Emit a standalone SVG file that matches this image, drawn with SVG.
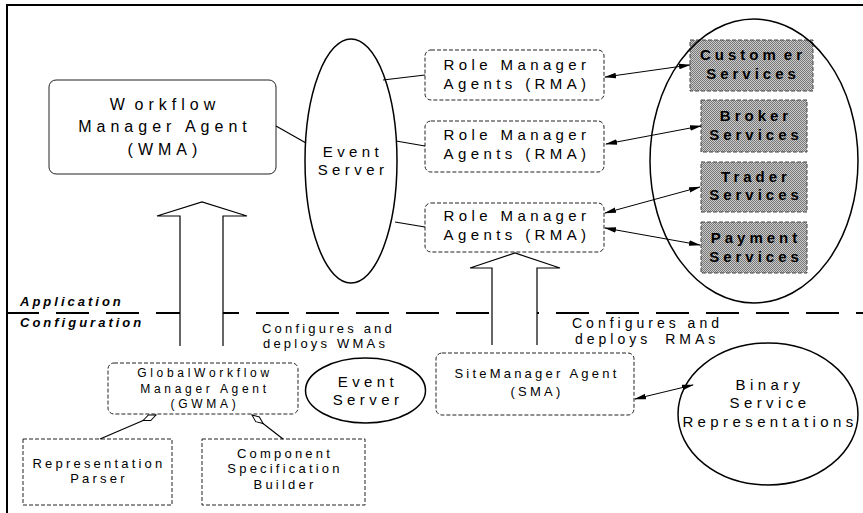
<svg xmlns="http://www.w3.org/2000/svg" width="863" height="513" viewBox="0 0 863 513">
  <defs>
    <style>
      text { font-family: "Liberation Sans", Arial, sans-serif; fill: #000; text-anchor: middle; }
      .t15 { font-size: 15px; letter-spacing: 4.4px; }
      .t16 { font-size: 16px; letter-spacing: 5px; }
      .t13 { font-size: 13px; letter-spacing: 3.2px; }
      .t12 { font-size: 12px; letter-spacing: 3.7px; }
      .svc { font-size: 15px; font-weight: bold; letter-spacing: 4px; }
      .layer { font-size: 13px; font-weight: bold; font-style: italic; letter-spacing: 3px; text-anchor: start; }
      .note { text-anchor: start; }
      .box { fill: #fff; stroke: #222; stroke-width: 1; }
      .dash { stroke-dasharray: 4 2; }
      .oval { fill: #fff; stroke: #000; stroke-width: 1.5; }
      .link { fill: none; stroke: #000; stroke-width: 1.2; }
      .both { fill: none; stroke: #000; stroke-width: 1; marker-start: url(#head); marker-end: url(#head); }
      .block { fill: none; stroke: #000; stroke-width: 1.2; }
      .service { fill: url(#dither); stroke: #444; stroke-width: 1; stroke-dasharray: 4 2; }
    </style>
    <pattern id="dither" width="2" height="2" patternUnits="userSpaceOnUse">
      <rect width="2" height="2" fill="#cacaca"/>
      <rect width="1" height="1" fill="#787878"/>
      <rect x="1" y="1" width="1" height="1" fill="#787878"/>
    </pattern>
    <marker id="head" viewBox="0 0 12 8" refX="11" refY="4" markerWidth="12" markerHeight="8" markerUnits="userSpaceOnUse" orient="auto-start-reverse">
      <path d="M0,1.2 L12,4 L0,6.8 Z" fill="#000"/>
    </marker>
    <marker id="diamond" viewBox="0 0 16 8" refX="15" refY="4" markerWidth="16" markerHeight="8" markerUnits="userSpaceOnUse" orient="auto">
      <path d="M1,4 L8,1 L15,4 L8,7 Z" fill="#fff" stroke="#000" stroke-width="1"/>
    </marker>
  </defs>

  <rect width="863" height="513" fill="#fff"/>

  <!-- frame -->
  <path d="M7,513 V5 H863" fill="none" stroke="#000" stroke-width="2"/>

  <!-- layer separator -->
  <line x1="6" y1="313" x2="863" y2="313" stroke="#000" stroke-width="2" stroke-dasharray="33 17"/>
  <text class="layer" x="20" y="306">Application</text>
  <text class="layer" x="20" y="327">Configuration</text>

  <!-- Application layer -->
  <g id="wma">
    <rect class="box" x="49" y="80" width="227" height="94" rx="7"/>
    <text class="t16" x="165" y="110">W<tspan dx="5">orkflow</tspan></text>
    <text class="t16" x="165" y="132">Manager Agent</text>
    <text class="t16" x="165" y="155">(WMA)</text>
  </g>

  <g id="event-server">
    <ellipse class="oval" cx="351" cy="161" rx="46" ry="122"/>
    <text class="t15" x="353" y="157">Event</text>
    <text class="t15" x="353" y="175">Server</text>
  </g>

  <g id="rma-1">
    <rect class="box dash" x="425" y="50" width="179" height="50" rx="6"/>
    <text class="t15" x="517" y="70">Role Manager</text>
    <text class="t15" x="517" y="89">Agents (RMA)</text>
  </g>

  <g id="rma-2">
    <rect class="box dash" x="425" y="121" width="179" height="51" rx="6"/>
    <text class="t15" x="517" y="140">Role Manager</text>
    <text class="t15" x="517" y="159">Agents (RMA)</text>
  </g>

  <g id="rma-3">
    <rect class="box dash" x="425" y="203" width="179" height="49" rx="6"/>
    <text class="t15" x="517" y="221">Role Manager</text>
    <text class="t15" x="517" y="240">Agents (RMA)</text>
  </g>

  <g id="customer-services">
    <rect class="service" x="690" y="40" width="123" height="51"/>
    <text class="svc" x="753" y="60">Custom<tspan dx="4">er</tspan></text>
    <text class="svc" x="753" y="79">Services</text>
  </g>

  <g id="broker-services">
    <rect class="service" x="701" y="100" width="106" height="52"/>
    <text class="svc" x="756" y="121">Broker</text>
    <text class="svc" x="756" y="140">Services</text>
  </g>

  <g id="trader-services">
    <rect class="service" x="701" y="162" width="106" height="50"/>
    <text class="svc" x="756" y="182">Trader</text>
    <text class="svc" x="756" y="200">Services</text>
  </g>

  <g id="payment-services">
    <rect class="service" x="701" y="222" width="106" height="51"/>
    <text class="svc" x="756" y="243">Payment</text>
    <text class="svc" x="756" y="262">Services</text>
  </g>

  <g id="service-set">
    <ellipse cx="754" cy="161" rx="104" ry="142" fill="none" stroke="#000" stroke-width="1.5"/>
  </g>

  <!-- Configuration layer -->
  <g id="gwma">
    <rect class="box dash" x="108" y="363" width="190" height="51" rx="6"/>
    <text class="t12" x="205" y="377">GlobalWorkflow</text>
    <text class="t12" x="205" y="393">Manager Agent</text>
    <text class="t12" x="205" y="408">(GWMA)</text>
  </g>

  <g id="representation-parser">
    <rect class="box dash" x="23" y="439" width="149" height="66"/>
    <text class="t13" x="99" y="468">Representation</text>
    <text class="t13" x="99" y="483">Parser</text>
  </g>

  <g id="component-specification-builder">
    <rect class="box dash" x="202" y="439" width="163" height="66"/>
    <text class="t13" x="285" y="458">Component</text>
    <text class="t13" x="285" y="473">Specification</text>
    <text class="t13" x="285" y="489">Builder</text>
  </g>

  <g id="config-event-server">
    <ellipse class="oval" cx="365.5" cy="390.5" rx="60" ry="32.5"/>
    <text class="t15" x="368" y="387">Event</text>
    <text class="t15" x="368" y="405">Server</text>
  </g>

  <g id="sma">
    <rect class="box dash" x="436" y="353" width="198" height="62" rx="6"/>
    <text class="t13" x="537" y="378">SiteManager Agent</text>
    <text class="t13" x="537" y="396">(SMA)</text>
  </g>

  <g id="binary-service-representations">
    <ellipse class="oval" cx="768" cy="414" rx="90" ry="71"/>
    <text class="t15" x="770" y="390">Binary</text>
    <text class="t15" x="770" y="408">Service</text>
    <text class="t15" x="770" y="427">Representations</text>
  </g>

  <!-- connectors -->
  <g id="connectors">
    <line class="link" x1="276" y1="126" x2="306" y2="143"/>
    <line class="link" x1="383" y1="80" x2="425" y2="75"/>
    <line class="link" x1="396" y1="141" x2="425" y2="146"/>
    <line class="link" x1="395" y1="222" x2="425" y2="227"/>

    <line class="both" x1="605" y1="77" x2="690" y2="65"/>
    <line class="both" x1="606" y1="144" x2="701" y2="126"/>
    <line class="both" x1="605" y1="213" x2="700" y2="187"/>
    <line class="both" x1="605" y1="228" x2="700" y2="245"/>
    <line class="both" x1="635" y1="399" x2="693" y2="385"/>

    <!-- aggregation links from the GWMA -->
    <line class="link" x1="100" y1="439" x2="156" y2="415" marker-end="url(#diamond)"/>
    <line class="link" x1="283" y1="439" x2="252" y2="415" marker-end="url(#diamond)"/>

    <!-- configures and deploys WMAs -->
    <g id="deploy-wma">
      <polygon points="180,346 180,216 157,216 202,202 247,216 223,216 223,346" fill="#fff" stroke="none"/>
      <polyline class="block" points="180,346 180,216 157,216 202,202 247,216 223,216 223,346"/>
    </g>
    <text class="t13 note" x="262" y="333">Configures and</text>
    <text class="t13 note" x="263" y="348">deploys WMAs</text>

    <!-- configures and deploys RMAs -->
    <g id="deploy-rma">
      <polygon points="492,345 492,268 470,268 515,253 560,268 537,268 537,345" fill="#fff" stroke="none"/>
      <polyline class="block" points="492,345 492,268 470,268 515,253 560,268 537,268 537,345"/>
    </g>
    <text class="note" x="572" y="328" style="font-size:14px;letter-spacing:4px">Configures and</text>
    <text class="note" x="575" y="344" style="font-size:14px;letter-spacing:4px">deploys <tspan dx="6">RMAs</tspan></text>
  </g>
</svg>
